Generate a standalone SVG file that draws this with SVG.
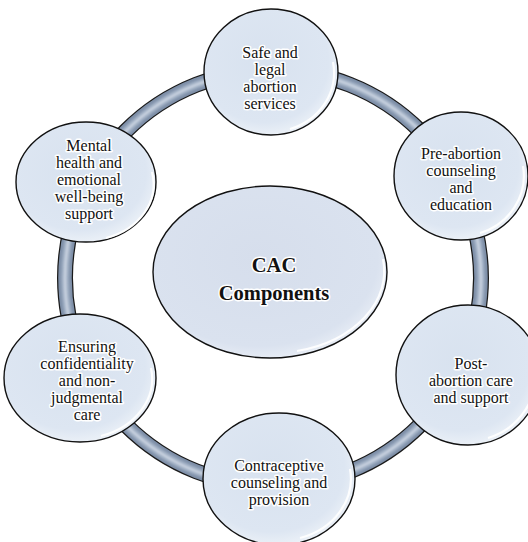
<svg xmlns="http://www.w3.org/2000/svg" width="528" height="542" viewBox="0 0 528 542">
  <defs>
    <radialGradient id="nodeFill" cx="0.45" cy="0.42" r="0.6">
      <stop offset="0" stop-color="#d8e2ef"/>
      <stop offset="0.8" stop-color="#dde6f2"/>
      <stop offset="1" stop-color="#edf2f8"/>
    </radialGradient>
    <radialGradient id="hubFill" cx="0.45" cy="0.42" r="0.6">
      <stop offset="0" stop-color="#d6deec"/>
      <stop offset="0.85" stop-color="#dae2ef"/>
      <stop offset="1" stop-color="#e9eef6"/>
    </radialGradient>
    <filter id="soft" x="-5%" y="-5%" width="110%" height="110%">
      <feGaussianBlur stdDeviation="0.8"/>
    </filter>
  </defs>
  <style>
    .node { fill: url(#nodeFill); stroke: #111; stroke-width: 1.4; }
    .hub { fill: url(#hubFill); stroke: #111; stroke-width: 1.4; }
    .rim { fill: none; stroke: #ffffff; stroke-width: 2.2; stroke-opacity: 0.9; }
    text { font-family: "Liberation Serif", Tinos, "DejaVu Serif", "Times New Roman", serif; fill: #111; text-anchor: middle;
           stroke: #ffffff; stroke-width: 3; stroke-linejoin: round; paint-order: stroke; }
    .lbl { font-size: 16px; }
    .title { font-size: 20.5px; font-weight: bold; }
  </style>

  <rect width="528" height="542" fill="#ffffff"/>

  <!-- cycle ring (tube) -->
  <g id="connectors">
    <circle cx="273" cy="278" r="208" fill="none" stroke="#1a1a1a" stroke-width="16"/>
    <circle cx="273" cy="278" r="208" fill="none" stroke="#7d8ea7" stroke-width="13.5"/>
    <circle cx="273" cy="278" r="208" fill="none" stroke="#9eadc2" stroke-width="8" filter="url(#soft)"/>
    <circle cx="273" cy="278" r="208" fill="none" stroke="#cdd6e3" stroke-width="2.5" filter="url(#soft)"/>
  </g>

  <!-- centre -->
  <g id="hub">
    <ellipse class="hub" cx="270" cy="272" rx="117" ry="86"/>
    <path class="rim" d="M 383 259 A 113 82 0 0 1 297 351" stroke-opacity="0.6"/>
    <text class="title" x="274" y="272" font-family="Liberation Serif, serif">CAC</text>
    <text class="title" x="274" y="300" font-family="Liberation Serif, serif">Components</text>
  </g>

  <g id="node-safe">
    <ellipse class="node" cx="271" cy="72" rx="67" ry="63"/>
    <path class="rim" d="M 333 62 A 63 59 0 0 1 290 129"/>
    <text class="lbl" x="270" y="58" font-family="Liberation Serif, serif">Safe and</text>
    <text class="lbl" x="270" y="75" font-family="Liberation Serif, serif">legal</text>
    <text class="lbl" x="270" y="92" font-family="Liberation Serif, serif">abortion</text>
    <text class="lbl" x="270" y="109" font-family="Liberation Serif, serif">services</text>
  </g>

  <g id="node-pre">
    <ellipse class="node" cx="461" cy="176" rx="67" ry="64"/>
    <path class="rim" d="M 523 166 A 63 60 0 0 1 480 233"/>
    <text class="lbl" x="461" y="159" font-family="Liberation Serif, serif">Pre-abortion</text>
    <text class="lbl" x="461" y="176" font-family="Liberation Serif, serif">counseling</text>
    <text class="lbl" x="461" y="193" font-family="Liberation Serif, serif">and</text>
    <text class="lbl" x="461" y="210" font-family="Liberation Serif, serif">education</text>
  </g>

  <g id="node-post">
    <ellipse class="node" cx="468" cy="375" rx="72" ry="70"/>
    <path class="rim" d="M 535 365 A 68 66 0 0 1 488 438"/>
    <text class="lbl" x="471" y="369" font-family="Liberation Serif, serif">Post-</text>
    <text class="lbl" x="471" y="386" font-family="Liberation Serif, serif">abortion care</text>
    <text class="lbl" x="471" y="403" font-family="Liberation Serif, serif">and support</text>
  </g>

  <g id="node-contraceptive">
    <ellipse class="node" cx="279" cy="479" rx="76" ry="66"/>
    <path class="rim" d="M 350 469 A 72 62 0 0 1 300 538"/>
    <text class="lbl" x="279" y="471" font-family="Liberation Serif, serif">Contraceptive</text>
    <text class="lbl" x="279" y="488" font-family="Liberation Serif, serif">counseling and</text>
    <text class="lbl" x="279" y="505" font-family="Liberation Serif, serif">provision</text>
  </g>

  <g id="node-confidentiality">
    <ellipse class="node" cx="80" cy="378" rx="76" ry="64"/>
    <path class="rim" d="M 151 368 A 72 60 0 0 1 101 436"/>
    <text class="lbl" x="87" y="352" font-family="Liberation Serif, serif">Ensuring</text>
    <text class="lbl" x="87" y="369" font-family="Liberation Serif, serif">confidentiality</text>
    <text class="lbl" x="87" y="386" font-family="Liberation Serif, serif">and non-</text>
    <text class="lbl" x="87" y="403" font-family="Liberation Serif, serif">judgmental</text>
    <text class="lbl" x="87" y="420" font-family="Liberation Serif, serif">care</text>
  </g>

  <g id="node-mental">
    <ellipse class="node" cx="86" cy="182" rx="70" ry="60"/>
    <path class="rim" d="M 152 172 A 66 56 0 0 1 106 238"/>
    <text class="lbl" x="89" y="151" font-family="Liberation Serif, serif">Mental</text>
    <text class="lbl" x="89" y="168" font-family="Liberation Serif, serif">health and</text>
    <text class="lbl" x="89" y="185" font-family="Liberation Serif, serif">emotional</text>
    <text class="lbl" x="89" y="202" font-family="Liberation Serif, serif">well-being</text>
    <text class="lbl" x="89" y="219" font-family="Liberation Serif, serif">support</text>
  </g>
</svg>
